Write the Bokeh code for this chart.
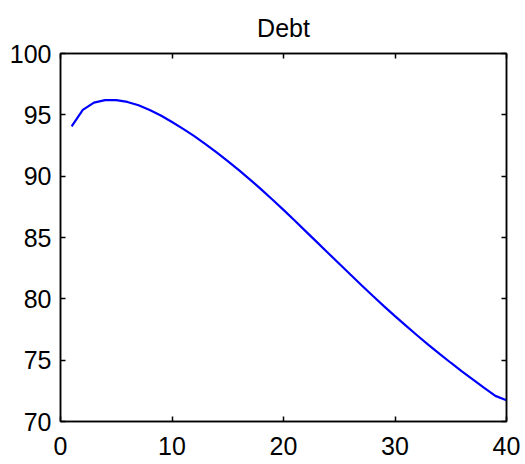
from bokeh.plotting import figure
from bokeh.models import Range1d, LinearAxis, FixedTicker, Title
from bokeh.embed import file_html
from bokeh.resources import INLINE

# Data
periods = list(range(1, 41))
debt = [94.05, 95.40, 96.00, 96.20, 96.20, 96.05, 95.78, 95.40, 94.94, 94.42,
        93.86, 93.26, 92.62, 91.94, 91.23, 90.49, 89.72, 88.92, 88.10, 87.25,
        86.38, 85.50, 84.62, 83.74, 82.86, 81.98, 81.11, 80.25, 79.41, 78.59,
        77.79, 77.01, 76.25, 75.51, 74.79, 74.09, 73.41, 72.74, 72.09, 71.74]
x_ticks = [0, 10, 20, 30, 40]
y_ticks = [70, 75, 80, 85, 90, 95, 100]
title_text = "Debt"

FONT = "Liberation Sans"

p = figure(frame_width=446, frame_height=368,
           x_range=Range1d(0, 40), y_range=Range1d(70, 100),
           output_backend="svg", toolbar_location=None,
           x_axis_location=None, y_axis_location=None,
           min_border_left=60, min_border_right=15,
           min_border_top=53, min_border_bottom=40,
           background_fill_color="white", border_fill_color="white")
p.title = Title(text=title_text, align="center", text_font=FONT,
                text_font_size="25px", text_font_style="normal",
                text_color="black", standoff=20, vertical_align="top")
p.grid.visible = False
p.outline_line_color = "black"
p.outline_line_width = 1.5

def make_axis(ticks, labels=True, standoff=8):
    ax = LinearAxis(ticker=FixedTicker(ticks=ticks))
    ax.axis_line_color = "black"
    ax.axis_line_width = 1.5
    ax.major_tick_line_color = "black"
    ax.major_tick_line_width = 1.5
    ax.major_tick_in = 5
    ax.major_tick_out = 0
    ax.minor_tick_line_color = None
    ax.major_label_text_font = FONT
    ax.major_label_text_font_size = "25px"
    ax.major_label_text_color = "black"
    ax.major_label_standoff = standoff
    if not labels:
        ax.major_label_overrides = {t: "" for t in ticks}
        ax.major_label_standoff = 0
    return ax

p.add_layout(make_axis(x_ticks, standoff=15), "below")
p.add_layout(make_axis(y_ticks, standoff=9), "left")
p.add_layout(make_axis(x_ticks, labels=False), "above")
p.add_layout(make_axis(y_ticks, labels=False), "right")

p.line(periods, debt, line_color="#0000ff", line_width=2.2)

open("out.html", "w").write(file_html(p, INLINE))
